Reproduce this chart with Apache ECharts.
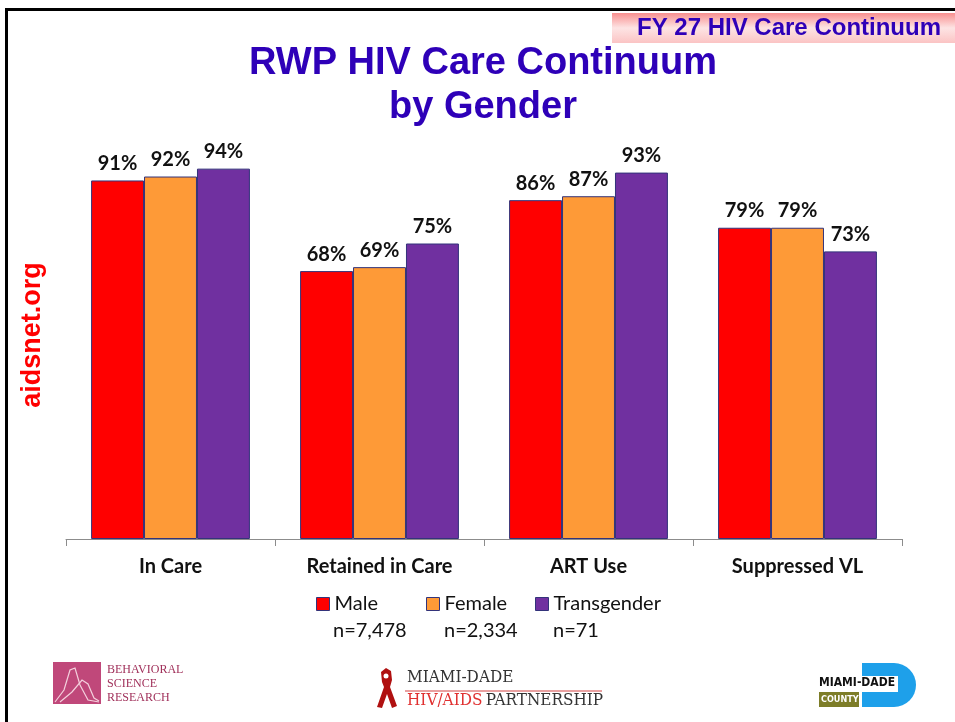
<!DOCTYPE html>
<html>
<head>
<meta charset="utf-8">
<script src="https://cdn.jsdelivr.net/npm/echarts@6/dist/echarts.min.js"></script>
<style>
  html, body { margin: 0; padding: 0; background: #fff; }
  #chart { width: 955px; height: 722px; }
</style>
</head>
<body>
<div id="chart"></div>
<script>
// data
var categories = ["In Care", "Retained in Care", "ART Use", "Suppressed VL"];
var male = [91, 68, 86, 79];
var female = [92, 69, 87, 79];
var transgender = [94, 75, 93, 73];
var groupNames = ["Male", "Female", "Transgender"];
var groupCounts = ["n=7,478", "n=2,334", "n=71"];

var colors = ["#ff0000", "#fe9a37", "#7030a0"];
var blue = "#2e00b8";
var bodyFont = "Lato, 'Open Sans', sans-serif";
var legendLeft = [316, 426, 535];

function barSeries(name, values, color) {
  return {
    name: name,
    type: "bar",
    data: values,
    barGap: "0%",
    barCategoryGap: "24%",
    itemStyle: { color: color, borderColor: "#33337a", borderWidth: 1 },
    label: {
      show: true,
      position: "top",
      distance: 7,
      formatter: "{c}%",
      color: "#111",
      fontFamily: bodyFont,
      fontWeight: "bold",
      fontSize: 20
    }
  };
}

// one legend per group so the entries sit on a fixed pitch like the slide
var legends = groupNames.map(function (name, i) {
  return {
    data: [name],
    left: legendLeft[i],
    top: 594,
    padding: 0,
    itemWidth: 13,
    itemHeight: 13,
    icon: "rect",
    itemStyle: { borderColor: "#33337a", borderWidth: 1 },
    textStyle: { fontFamily: bodyFont, fontSize: 20, color: "#111" }
  };
});

var chart = echarts.init(document.getElementById("chart"));
var option = {
  animation: false,
  color: colors,
  grid: { left: 66, right: 53, top: 145, bottom: 183 },
  legend: legends,
  xAxis: {
    type: "category",
    data: categories,
    axisLine: { lineStyle: { color: "#8c8c8c", width: 1 } },
    axisTick: { show: true, length: 7, lineStyle: { color: "#8c8c8c" } },
    axisLabel: {
      margin: 18,
      color: "#111",
      fontFamily: bodyFont,
      fontWeight: "bold",
      fontSize: 20
    }
  },
  yAxis: { type: "value", min: 0, max: 100, show: false },
  series: [
    barSeries(groupNames[0], male, colors[0]),
    barSeries(groupNames[1], female, colors[1]),
    barSeries(groupNames[2], transgender, colors[2])
  ],
  graphic: [
    // slide frame
    { type: "rect", shape: { x: 5, y: 8, width: 960, height: 3 }, style: { fill: "#000" }, silent: true },
    { type: "rect", shape: { x: 5, y: 8, width: 3, height: 720 }, style: { fill: "#000" }, silent: true },
    // top right banner
    {
      type: "rect",
      shape: { x: 612, y: 13, width: 343, height: 30 },
      style: {
        fill: new echarts.graphic.LinearGradient(0, 0, 0, 1, [
          { offset: 0, color: "#f88f8f" },
          { offset: 0.5, color: "#fde4e4" },
          { offset: 1, color: "#fbc4c4" }
        ])
      },
      silent: true
    },
    {
      type: "text", x: 789, y: 28,
      style: { text: "FY 27 HIV Care Continuum", fill: blue, align: "center", verticalAlign: "middle", font: "bold 24px 'Liberation Sans', Arial, sans-serif" }
    },
    // title
    {
      type: "text", x: 483, y: 86,
      style: {
        text: "RWP HIV Care Continuum\nby Gender",
        fill: blue,
        align: "center",
        verticalAlign: "middle",
        lineHeight: 44,
        font: "bold 38px 'Liberation Sans', Arial, sans-serif"
      }
    },
    // side text
    {
      type: "text", x: 33, y: 335, rotation: Math.PI / 2,
      style: {
        text: "aidsnet.org",
        fill: "#ff0000",
        align: "center",
        verticalAlign: "middle",
        font: "bold 27px 'Liberation Sans', Arial, sans-serif"
      }
    },
    // legend counts
    { type: "text", x: 333, y: 631, style: { text: groupCounts[0], fill: "#111", verticalAlign: "middle", font: "20px " + bodyFont } },
    { type: "text", x: 444, y: 631, style: { text: groupCounts[1], fill: "#111", verticalAlign: "middle", font: "20px " + bodyFont } },
    { type: "text", x: 553, y: 631, style: { text: groupCounts[2], fill: "#111", verticalAlign: "middle", font: "20px " + bodyFont } },
    // Behavioral Science Research logo
    { type: "rect", shape: { x: 53, y: 662, width: 48, height: 42 }, style: { fill: "#c0487a" }, silent: true },
    {
      type: "polyline",
      shape: { points: [[55, 702], [64, 690], [70, 670], [75, 668], [80, 685], [88, 700], [99, 702]] },
      style: { stroke: "#f4d0dd", fill: null, lineWidth: 1.2 }
    },
    {
      type: "polyline",
      shape: { points: [[60, 702], [72, 692], [82, 680], [88, 684], [94, 698], [99, 701]] },
      style: { stroke: "#f4d0dd", fill: null, lineWidth: 1.2 }
    },
    {
      type: "text", x: 107, y: 663,
      style: {
        text: "BEHAVIORAL\nSCIENCE\nRESEARCH",
        fill: "#a0305a",
        lineHeight: 14,
        font: "12px 'Liberation Serif', serif"
      }
    },
    // Miami-Dade HIV/AIDS Partnership logo
    {
      type: "polygon",
      shape: { points: [[386, 668], [381, 672], [382, 682], [384, 687], [377, 707], [382, 708], [387, 694], [392, 708], [397, 706], [390, 687], [392, 680], [391, 671]] },
      style: { fill: "#b01010" }
    },
    { type: "circle", shape: { cx: 386, cy: 676, r: 2.5 }, style: { fill: "#fff" } },
    { type: "text", x: 407, y: 669, style: { text: "MIAMI-DADE", fill: "#333", font: "17px 'DejaVu Serif Condensed', 'Liberation Serif', serif" } },
    { type: "rect", shape: { x: 405, y: 690, width: 197, height: 2 }, style: { fill: "#e9a0a0" }, silent: true },
    {
      type: "text", x: 407, y: 692,
      style: {
        text: "{a|HIV/AIDS} {b|PARTNERSHIP}",
        rich: {
          a: { fill: "#e03030", font: "17px 'DejaVu Serif Condensed', 'Liberation Serif', serif" },
          b: { fill: "#333", font: "17px 'DejaVu Serif Condensed', 'Liberation Serif', serif" }
        }
      }
    },
    // Miami-Dade County logo
    { type: "rect", shape: { x: 862, y: 663, width: 32, height: 44 }, style: { fill: "#1ea0ea" }, silent: true },
    { type: "sector", shape: { cx: 894, cy: 685, r: 22, startAngle: -Math.PI / 2, endAngle: Math.PI / 2 }, style: { fill: "#1ea0ea" }, silent: true },
    { type: "rect", shape: { x: 818, y: 676, width: 80, height: 16 }, style: { fill: "#fff" }, silent: true },
    { type: "text", x: 819, y: 677, style: { text: "MIAMI-DADE", fill: "#111", font: "bold 12px 'Liberation Sans Narrow', 'DejaVu Sans Condensed', sans-serif" } },
    { type: "rect", shape: { x: 819, y: 692, width: 40, height: 15 }, style: { fill: "#7d7d28" }, silent: true },
    { type: "text", x: 821, y: 695, style: { text: "COUNTY", fill: "#fff", font: "bold 9px 'Liberation Sans Narrow', 'DejaVu Sans Condensed', sans-serif" } }
  ]
};
chart.setOption(option);
</script>
</body>
</html>
